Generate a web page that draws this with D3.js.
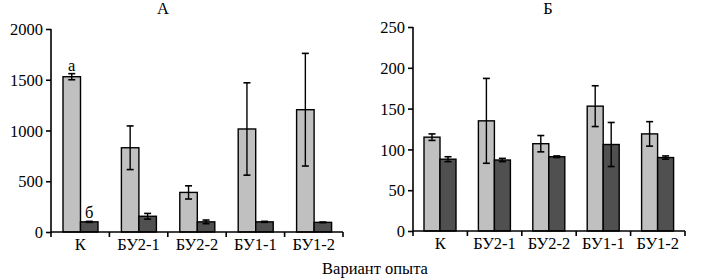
<!DOCTYPE html>
<html><head><meta charset="utf-8">
<script src="https://cdn.jsdelivr.net/npm/d3@7"></script>
<style>body{margin:0;background:#fff}svg{display:block}</style>
</head><body><svg id="c" width="708" height="279"></svg>
<script>
const categories = ["К","БУ2-1","БУ2-2","БУ1-1","БУ1-2"];
// Panel A
const aLight = [1530, 830, 390, 1015, 1205];
const aLightErr = [30, 215, 65, 455, 555];
const aDark = [100, 155, 100, 100, 95];
const aDarkErr = [5, 28, 18, 5, 3];
const aTicks = [0, 500, 1000, 1500, 2000];
// Panel Б
const bLight = [115, 135, 107, 153, 119];
const bLightErr = [4, 52, 10, 25, 15];
const bDark = [88, 87, 91, 106, 90];
const bDarkErr = [3, 2, 1, 27, 2];
const bTicks = [0, 50, 100, 150, 200, 250];

const FONT = "'Liberation Serif', 'Times New Roman', serif";
const FS = 16.5;
const svg = d3.select("#c").style("font-family", FONT);
const LIGHT = "#c0c0c0", DARK = "#505050";

function txt(sel){ return sel.style("font-family", FONT).attr("font-size",FS).attr("fill","#000"); }

function panel(o){
  const g = svg.append("g");
  const y = d3.scaleLinear().domain(o.domain).range([o.y0, o.y1]);
  const x = d3.scaleBand().domain(categories).range([o.x0, o.x1]);
  const bw = o.barW, pad = o.pad;
  const series = [{v:o.light,e:o.lightErr,c:LIGHT,off:pad},{v:o.dark,e:o.darkErr,c:DARK,off:pad+bw}];
  series.forEach(s=>{
    g.selectAll(null).data(categories).enter().append("rect")
      .attr("x",d=>x(d)+s.off).attr("width",bw)
      .attr("y",(d,i)=>y(s.v[i])).attr("height",(d,i)=>y(0)-y(s.v[i]))
      .attr("fill",s.c).attr("stroke","#000").attr("stroke-width",1.4);
    categories.forEach((d,i)=>{
      const cx = x(d)+s.off+bw/2;
      const t = y(s.v[i]+s.e[i]), b = y(Math.max(0,s.v[i]-s.e[i]));
      g.append("line").attr("x1",cx).attr("x2",cx).attr("y1",t).attr("y2",b).attr("stroke","#000").attr("stroke-width",1.4);
      [t,b].forEach(yy=>g.append("line").attr("x1",cx-3.5).attr("x2",cx+3.5).attr("y1",yy).attr("y2",yy).attr("stroke","#000").attr("stroke-width",1.6));
    });
  });
  const ya = g.append("g").attr("transform",`translate(${o.x0},0)`)
    .call(d3.axisLeft(y).tickValues(o.ticks).tickSize(5).tickPadding(3).tickFormat(d3.format("d")));
  ya.attr("font-family", null).attr("font-size", null);
  ya.select(".domain").attr("stroke","#000").attr("stroke-width",1.6).attr("d",`M0,${y(o.domain[1])}V${y(0)}`);
  ya.selectAll(".tick line").attr("stroke","#000").attr("stroke-width",1.6);
  txt(ya.selectAll("text")).attr("dy","0.34em");
  const xa = g.append("g").attr("transform",`translate(0,${y(0)})`);
  xa.append("line").attr("x1",o.x0).attr("x2",o.x1).attr("y1",0).attr("y2",0).attr("stroke","#000").attr("stroke-width",1.6);
  const bounds = categories.map(d=>x(d)).concat([o.x1]);
  xa.selectAll(null).data(bounds).enter().append("line")
    .attr("x1",d=>d).attr("x2",d=>d).attr("y1",0).attr("y2",5).attr("stroke","#000").attr("stroke-width",1.6);
  txt(xa.selectAll(null).data(categories).enter().append("text"))
    .attr("x",d=>x(d)+x.bandwidth()/2).attr("y",18).attr("text-anchor","middle").text(d=>d);
  txt(g.append("text")).attr("x",o.titleX).attr("y",14).attr("text-anchor","middle").text(o.title);
  return {x,y,g};
}

const A = panel({domain:[0,2000],y0:232,y1:29,x0:51,x1:343,barW:17.5,pad:12,
  light:aLight,lightErr:aLightErr,dark:aDark,darkErr:aDarkErr,ticks:aTicks,title:"А",titleX:163});
const B = panel({domain:[0,250],y0:231,y1:27,x0:413,x1:685,barW:16,pad:11,
  light:bLight,lightErr:bLightErr,dark:bDark,darkErr:bDarkErr,ticks:bTicks,title:"Б",titleX:548});

txt(A.g.append("text")).attr("x",A.x("К")+12+17.5/2).attr("y",A.y(aLight[0]+aLightErr[0])-3).attr("text-anchor","middle").text("а");
txt(A.g.append("text")).attr("x",A.x("К")+12+17.5*1.5).attr("y",A.y(aDark[0]+aDarkErr[0])-3).attr("text-anchor","middle").text("б");

txt(svg.append("text")).attr("x",375).attr("y",274).attr("text-anchor","middle").text("Вариант опыта");
</script></body></html>
